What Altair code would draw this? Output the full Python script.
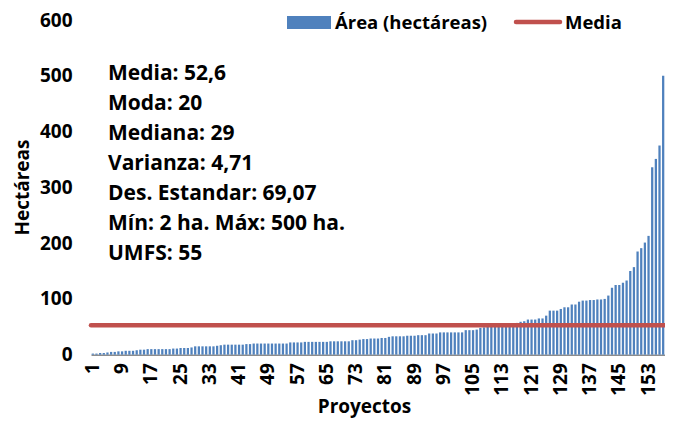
import altair as alt
import pandas as pd

# ---- data ----
proyectos = list(range(1, 158))
area = [
    2, 2, 3, 3, 4, 5, 5, 6, 6, 7, 7, 7, 8, 9, 9, 10, 10, 10, 10, 10,
    10, 10, 11, 11, 12, 12, 12, 13, 15, 15, 15, 15, 15, 15, 16, 17, 18, 18, 18, 18,
    18, 18, 19, 19, 20, 20, 20, 20, 20, 20, 20, 20, 20, 20, 22, 22, 22, 22, 23, 23,
    23, 23, 23, 23, 23, 24, 24, 24, 24, 24, 24, 26, 26, 27, 28, 28, 29, 29, 29, 30,
    30, 32, 33, 33, 33, 33, 34, 34, 34, 35, 35, 35, 38, 38, 38, 40, 40, 40, 40, 40,
    40, 40, 44, 44, 44, 45, 48, 49, 50, 50, 51, 52, 53, 54, 55, 56, 57, 59, 60, 63,
    63, 63, 65, 65, 70, 79, 79, 79, 82, 85, 85, 90, 90, 95, 97, 97, 98, 98, 99, 99,
    100, 106, 120, 125, 125, 129, 133, 150, 157, 185, 191, 201, 213, 336, 351, 375, 500,
]
media = 52.6
y_ticks = [0, 100, 200, 300, 400, 500, 600]
x_ticks = list(range(1, 158, 8))
stats_lines = [
    "Media: 52,6",
    "Moda: 20",
    "Mediana: 29",
    "Varianza: 4,71",
    "Des. Estandar: 69,07",
    "Mín: 2 ha. Máx: 500 ha.",
    "UMFS: 55",
]
legend_labels = ["Área (hectáreas)", "Media"]

BLUE = "#4F81BD"
RED = "#C0504D"
FONT = "Open Sans"

df = pd.DataFrame({"Proyecto": proyectos, "Area": area})
mean_df = pd.DataFrame({"media": [media]})
one = pd.DataFrame({"k": [0]})

bars = alt.Chart(df).mark_bar(color=BLUE).encode(
    x=alt.X(
        "Proyecto:O",
        sort="ascending",
        scale=alt.Scale(paddingInner=0.38, paddingOuter=0.19),
        axis=alt.Axis(
            values=x_ticks,
            labelAngle=-90,
            labelFont=FONT,
            labelFontSize=19,
            labelFontWeight="bold",
            labelColor="black",
            labelPadding=8,
            ticks=False,
            domainColor="#8C8C8C",
            domainWidth=1.5,
            title="Proyectos",
            titleFont=FONT,
            titleFontSize=19,
            titleFontWeight="bold",
            titleColor="black",
            titleX=273,
            titleY=58,
            titleAlign="center",
            titleBaseline="alphabetic",
        ),
    ),
    y=alt.Y(
        "Area:Q",
        scale=alt.Scale(domain=[0, 600], nice=False),
        axis=alt.Axis(
            values=y_ticks,
            grid=False,
            domain=False,
            ticks=False,
            labelFont=FONT,
            labelFontSize=19,
            labelFontWeight="bold",
            labelColor="black",
            labelPadding=19,
            title="Hectáreas",
            titleFont=FONT,
            titleFontSize=19,
            titleFontWeight="bold",
            titleColor="black",
            titleAngle=-90,
            titleX=-63,
            titleY=167,
            titleAlign="center",
            titleBaseline="alphabetic",
        ),
    ),
)

mean_rule = alt.Chart(mean_df).mark_rule(
    color=RED, strokeWidth=4.5, strokeCap="round"
).encode(y="media:Q")

stats = alt.Chart(one).mark_text(
    text=stats_lines,
    align="left",
    baseline="alphabetic",
    font=FONT,
    fontSize=21,
    fontWeight="bold",
    color="black",
    lineHeight=30,
).encode(x=alt.value(17), y=alt.value(60))

leg_rect = alt.Chart(one).mark_rect(color=BLUE).encode(
    x=alt.value(196), x2=alt.value(240), y=alt.value(-4), y2=alt.value(9)
)
leg_line = alt.Chart(one).mark_rule(color=RED, strokeWidth=4.5, strokeCap="round").encode(
    x=alt.value(425), x2=alt.value(469), y=alt.value(2)
)
leg_text1 = alt.Chart(one).mark_text(
    text=legend_labels[0], align="left", baseline="alphabetic",
    font=FONT, fontSize=18.5, fontWeight="bold", color="black",
).encode(x=alt.value(244), y=alt.value(8.5))
leg_text2 = alt.Chart(one).mark_text(
    text=legend_labels[1], align="left", baseline="alphabetic",
    font=FONT, fontSize=18.5, fontWeight="bold", color="black",
).encode(x=alt.value(474), y=alt.value(8.5))

chart = alt.layer(
    bars, mean_rule, stats, leg_rect, leg_line, leg_text1, leg_text2
).properties(
    width=574,
    height=334.7,
    padding={"left": 83, "top": 12, "right": 0, "bottom": 65.3},
    autosize=alt.AutoSizeParams(type="none"),
    background="white",
).configure_view(stroke=None)

chart.save("out.html", embed_options={"renderer": "svg", "actions": False})
